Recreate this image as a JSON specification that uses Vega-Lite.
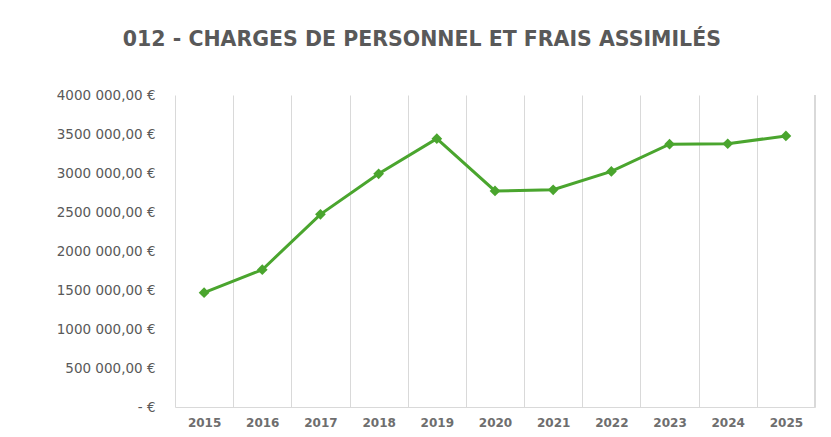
{
  "$schema": "https://vega.github.io/schema/vega-lite/v6.json",
  "width": 640,
  "height": 312,
  "autosize": {"type": "none"},
  "padding": {"left": 175, "top": 95, "right": 16, "bottom": 30},
  "background": "white",
  "title": {
    "text": "012 - CHARGES DE PERSONNEL ET FRAIS ASSIMILÉS",
    "font": "DejaVu Sans",
    "fontSize": 20.5,
    "fontWeight": "bold",
    "color": "#595959",
    "anchor": "middle",
    "frame": "bounds",
    "offset": 38,
    "dx": -14
  },
  "data": {
    "values": [
      {"year": "2015", "value": 1465000},
      {"year": "2016", "value": 1760000},
      {"year": "2017", "value": 2470000},
      {"year": "2018", "value": 2990000},
      {"year": "2019", "value": 3440000},
      {"year": "2020", "value": 2770000},
      {"year": "2021", "value": 2785000},
      {"year": "2022", "value": 3020000},
      {"year": "2023", "value": 3370000},
      {"year": "2024", "value": 3375000},
      {"year": "2025", "value": 3475000}
    ]
  },
  "config": {
    "view": {"stroke": null},
    "font": "DejaVu Sans"
  },
  "encoding": {
    "x": {
      "field": "year",
      "type": "ordinal",
      "scale": {"type": "band", "paddingInner": 0, "paddingOuter": 0},
      "axis": {
        "title": null,
        "labelAngle": 0,
        "labelFontSize": 12,
        "labelColor": "#6e6e6e",
        "labelFont": "DejaVu Sans",
        "labelFontWeight": "bold",
        "labelPadding": 10,
        "labelAlign": "center",
        "bandPosition": 0.5,
        "grid": true,
        "gridColor": "#d9d9d9",
        "gridWidth": 1,
        "tickBand": "extent",
        "ticks": false,
        "domain": true,
        "domainColor": "#d9d9d9",
        "domainWidth": 1
      }
    },
    "y": {
      "field": "value",
      "type": "quantitative",
      "scale": {"domain": [0, 4000000]},
      "axis": {
        "title": null,
        "values": [0, 500000, 1000000, 1500000, 2000000, 2500000, 3000000, 3500000, 4000000],
        "labelExpr": "datum.value == 0 ? '-   €' : floor(datum.value / 1000) + ' 000,00 €'",
        "labelFontSize": 13.5,
        "labelColor": "#595959",
        "labelPadding": 20,
        "labelOverlap": false,
        "ticks": true,
        "tickSize": 0,
        "tickColor": "transparent",
        "gridColor": "transparent",
        "domain": false
      }
    }
  },
  "layer": [
    {
      "mark": {"type": "line", "color": "#4aa52e", "strokeWidth": 3}
    },
    {
      "mark": {"type": "point", "shape": "diamond", "filled": true, "color": "#4aa52e", "size": 115, "opacity": 1}
    },
    {
      "mark": {"type": "rule", "color": "#d9d9d9", "strokeWidth": 1},
      "encoding": {
        "x": {"datum": "2025", "type": "ordinal", "bandPosition": 1},
        "y": {"datum": 0, "type": "quantitative"},
        "y2": {"datum": 4000000}
      }
    }
  ]
}
